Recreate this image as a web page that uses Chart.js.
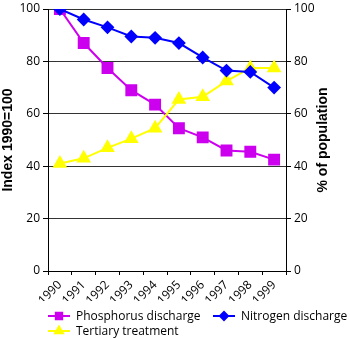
<!DOCTYPE html>
<html>
<head>
<meta charset="utf-8">
<script src="https://cdn.jsdelivr.net/npm/chart.js@4/dist/chart.umd.min.js"></script>
<style>
  html, body { margin: 0; padding: 0; background: #fff; }
  canvas { display: block; }
</style>
</head>
<body>
<canvas id="chart" width="350" height="339"></canvas>
<script>
// Years on the x axis
const years = ['1990', '1991', '1992', '1993', '1994', '1995', '1996', '1997', '1998', '1999'];

// Discharges, index 1990 = 100 (left axis)
const phosphorus = [100, 87, 77.5, 69, 63.5, 54.5, 51, 46, 45.5, 42.5];
const nitrogen = [100, 96, 93, 89.5, 89, 87, 81.5, 76.5, 76, 70];

// Share of population with tertiary treatment, % (right axis)
const tertiary = [41, 43, 47, 50.5, 54.5, 65.5, 66.5, 72.5, 77.5, 77.5];

const yTicks = [0, 20, 40, 60, 80, 100];

const FONT = "'Open Sans', sans-serif";
const TITLE_FONT = "bold 14px 'Liberation Sans', Arial, sans-serif";

// Legend drawn under the axis: two columns, Excel style (line with marker)
const legendPlugin = {
  id: 'bottomLegend',
  afterDraw(chart, args, opts) {
    const ctx = chart.ctx;
    ctx.save();
    ctx.font = '12px ' + FONT;
    ctx.textBaseline = 'middle';
    ctx.textAlign = 'left';
    opts.items.forEach(item => {
      const ds = chart.data.datasets[item.dataset];
      const x = opts.columns[item.col];
      const y = opts.rows[item.row];
      ctx.strokeStyle = ds.borderColor;
      ctx.lineWidth = 2;
      ctx.beginPath();
      ctx.moveTo(x, y);
      ctx.lineTo(x + 22, y);
      ctx.stroke();
      Chart.helpers.drawPoint(ctx, {
        pointStyle: ds.pointStyle,
        radius: ds.legendRadius,
        borderWidth: 1
      }, x + 11, y);
      ctx.fillStyle = ds.borderColor;
      ctx.fill();
      ctx.fillStyle = '#000';
      ctx.fillText(ds.label, x + 28, y + 1);
    });
    ctx.restore();
  }
};

// Right axis title, reads bottom to top like the left one
const rightTitlePlugin = {
  id: 'rightTitle',
  afterDraw(chart, args, opts) {
    const ctx = chart.ctx;
    const area = chart.chartArea;
    ctx.save();
    ctx.translate(opts.x, (area.top + area.bottom) / 2);
    ctx.rotate(-Math.PI / 2);
    ctx.font = TITLE_FONT;
    ctx.fillStyle = '#000';
    ctx.textAlign = 'center';
    ctx.textBaseline = 'middle';
    ctx.fillText(opts.text, 0, 0);
    ctx.restore();
  }
};

new Chart(document.getElementById('chart'), {
  type: 'line',
  data: {
    labels: years,
    datasets: [
      {
        label: 'Nitrogen discharge',
        data: nitrogen,
        yAxisID: 'y',
        borderColor: '#0000FF',
        backgroundColor: '#0000FF',
        pointStyle: 'rectRot',
        pointRadius: 5.5,
        legendRadius: 4,
        borderWidth: 2,
        order: 1
      },
      {
        label: 'Tertiary treatment',
        data: tertiary,
        yAxisID: 'y1',
        borderColor: '#FFFF00',
        backgroundColor: '#FFFF00',
        pointStyle: 'triangle',
        pointRadius: 6.5,
        legendRadius: 4.5,
        borderWidth: 2,
        order: 2
      },
      {
        label: 'Phosphorus discharge',
        data: phosphorus,
        yAxisID: 'y',
        borderColor: '#CC00EE',
        backgroundColor: '#CC00EE',
        pointStyle: 'rect',
        pointRadius: 7,
        legendRadius: 4.5,
        borderWidth: 2,
        order: 3
      }
    ]
  },
  options: {
    responsive: false,
    animation: false,
    devicePixelRatio: 1,
    layout: { padding: { left: 0, right: 0, top: 5, bottom: 38 } },
    elements: {
      line: { tension: 0 },
      point: { borderWidth: 1, hoverRadius: 6 }
    },
    plugins: {
      legend: { display: false },
      tooltip: { enabled: false },
      bottomLegend: {
        columns: [48, 213],
        rows: [316, 331],
        items: [
          { dataset: 2, col: 0, row: 0 },
          { dataset: 0, col: 1, row: 0 },
          { dataset: 1, col: 0, row: 1 }
        ]
      },
      rightTitle: { text: '% of population', x: 323 }
    },
    scales: {
      x: {
        type: 'category',
        offset: true,
        grid: { offset: true, drawOnChartArea: false, drawTicks: true, tickLength: 4, color: '#000' },
        border: { color: '#000', width: 1 },
        ticks: {
          autoSkip: false,
          minRotation: 45,
          maxRotation: 45,
          padding: 3,
          color: '#000',
          font: { family: FONT, size: 12 }
        },
        afterFit: s => { s.height = 30; s.paddingLeft = 0; s.paddingRight = 0; }
      },
      y: {
        position: 'left',
        min: 0,
        max: 100,
        afterBuildTicks: s => { s.ticks = yTicks.map(v => ({ value: v })); },
        grid: { color: '#333', tickColor: '#000', tickLength: 5 },
        border: { color: '#000', width: 1 },
        ticks: { padding: 3, color: '#000', font: { family: FONT, size: 12 } },
        title: {
          display: true,
          text: 'Index 1990=100',
          color: '#000',
          padding: 0,
          font: { family: "'Liberation Sans', Arial, sans-serif", size: 14, weight: 'bold' }
        },
        afterFit: s => { s.width = 48; s.paddingTop = 0; s.paddingBottom = 0; }
      },
      y1: {
        position: 'right',
        min: 0,
        max: 100,
        afterBuildTicks: s => { s.ticks = yTicks.map(v => ({ value: v })); },
        grid: { drawOnChartArea: false, color: '#000', tickLength: 5 },
        border: { color: '#000', width: 1 },
        ticks: { padding: 3, color: '#000', font: { family: FONT, size: 12 } },
        afterFit: s => { s.width = 64; s.paddingTop = 0; s.paddingBottom = 0; }
      }
    }
  },
  plugins: [legendPlugin, rightTitlePlugin]
});
</script>
</body>
</html>
